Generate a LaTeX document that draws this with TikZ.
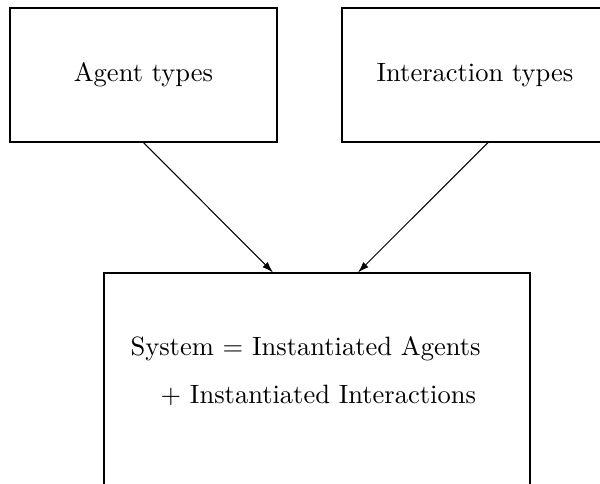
\documentclass[tikz,border=0pt]{standalone}
\usetikzlibrary{arrows.meta,calc}
\begin{document}
\begin{tikzpicture}[x=0.383pt,y=-0.383pt,
  box/.style={draw,line width=0.4pt,rectangle,inner sep=0pt},
  conn/.style={draw,line width=0.4pt,-{Latex[length=4.2pt,width=2.8pt]}},
  txt/.style={inner sep=0pt,scale=1.015},
  lbl/.style={txt,anchor=base west}]
\useasboundingbox (0,0) rectangle (600,483);
\begin{scope}
\clip (0,0) rectangle (600,483);
\node[box,minimum width=267*0.383pt,minimum height=134*0.383pt] (agent) at (143.5,75) {};
\node[txt] (agenttxt) at (143.5,75) {Agent types};
\node[box,minimum width=292*0.383pt,minimum height=134*0.383pt] (inter) at (488,75) {};
\node[txt] (intertxt) at (475,75) {Interaction types};
\node[box,minimum width=426*0.383pt,minimum height=240*0.383pt] (sys) at (317,393) {};
\node[lbl] (l1) at (130,355) {System $=$ Instantiated Agents};
\node[lbl] (l2) at (160,403) {$+$ Instantiated Interactions};
\coordinate (e1) at ($(sys.north)+(-44,0)$);
\coordinate (e2) at ($(sys.north)+(41,0)$);
\draw[conn] (agent.south) -- (e1);
\draw[conn] (inter.south) -- (e2);
\end{scope}
\end{tikzpicture}
\end{document}
